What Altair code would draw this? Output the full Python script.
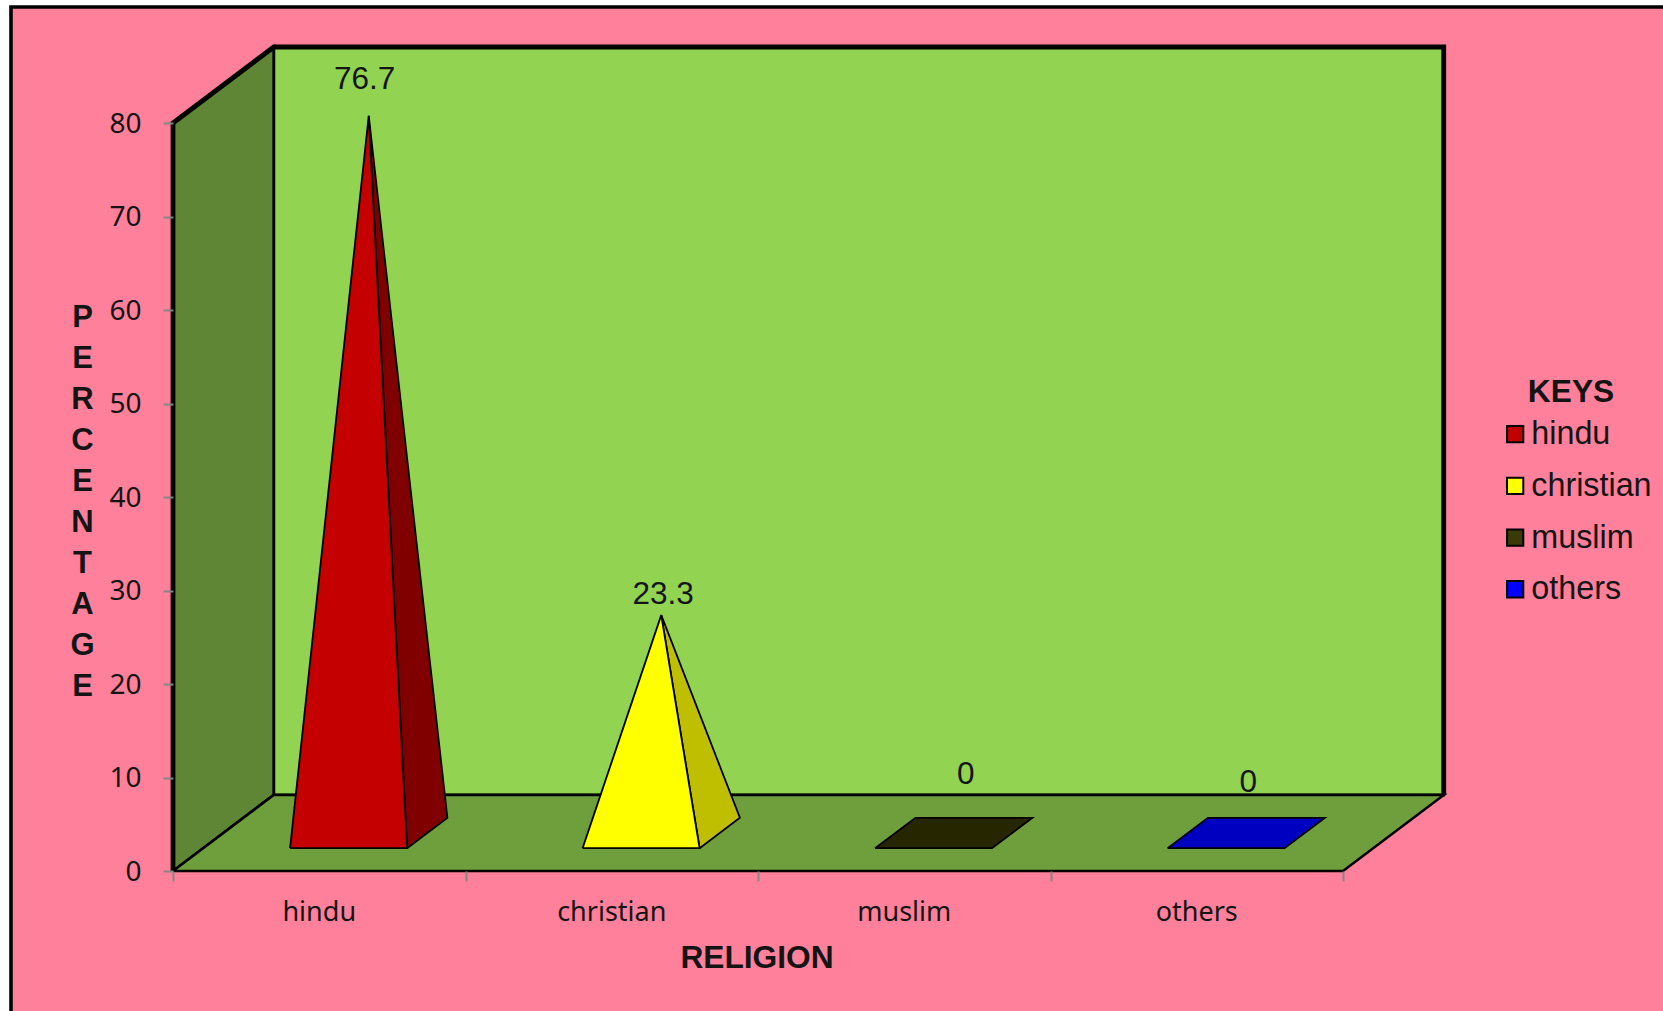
import altair as alt
import pandas as pd

# Survey figures
religions = ["hindu", "christian", "muslim", "others"]
percentages = [76.7, 23.3, 0, 0]
y_ticks = [0, 10, 20, 30, 40, 50, 60, 70, 80]
x_edges = [0, 1, 2, 3, 4]

# Palette for the pyramids: lit face, shaded face, legend key
front_colors = ["#C40000", "#FFFF00", "#262600", "#0000C0"]
side_colors = ["#800000", "#BFBF00", "#262600", "#0000C0"]
key_colors = ["#C00000", "#FFFF00", "#3A3A08", "#0000FF"]
label_nudges = [(-4, -36), (2, -20), (12, -58), (2, -50)]

PINK = "#FF809A"
BACK_WALL = "#92D351"
SIDE_WALL = "#5F8635"
FLOOR = "#6F9F3D"
TICK = "#868686"
INK = "#141414"
SANS = "Liberation Sans"
SOFT = "Noto Sans"

# Oblique projection: one unit of depth moves this far along each data axis
DEPTH_X = 0.3444
DEPTH_Y = 8.13
Y_MAX = 80
N = len(religions)
X_SCALE = alt.Scale(domain=[0, N], nice=False, zero=False)
Y_SCALE = alt.Scale(domain=[0, Y_MAX], nice=False, zero=False)
PYRAMID_HALF = 0.2
PYRAMID_CENTRE = 0.497


def project(cat, depth, value):
    return cat + depth * DEPTH_X, value + depth * DEPTH_Y


def polygon(points, fill, stroke="black", width=1.8, closed=True):
    """Draws a straight-edged face through the shared x and y scales."""
    pts = list(points) + ([points[0]] if closed else [])
    rows = []
    for i, (c, d, v) in enumerate(pts):
        x, y = project(c, d, v)
        rows.append({"x": x, "y": y, "i": i})
    kwargs = dict(stroke=stroke, strokeWidth=width, strokeJoin="miter", clip=False)
    if fill:
        kwargs["fill"] = fill
    return alt.Chart(pd.DataFrame(rows)).mark_line(**kwargs).encode(
        x=alt.X("x:Q", scale=X_SCALE, axis=None),
        y=alt.Y("y:Q", scale=Y_SCALE, axis=None),
        order="i:Q",
    )


layers = []

# Page panel: white margin on the left and top, black outline running off the page
layers.append(
    alt.Chart(pd.DataFrame({"a": [0]})).mark_rect(fill=PINK, stroke="black", strokeWidth=3.6).encode(
        x=alt.value(-162), x2=alt.value(1600), y=alt.value(-116), y2=alt.value(1000)
    )
)

# Axes with ticks and titles, attached to an invisible layer and raised above the panel
axis_frame = pd.DataFrame({"x": x_edges, "y": y_ticks[: len(x_edges)]})
layers.append(
    alt.Chart(axis_frame).mark_point(opacity=0, clip=False).encode(
        x=alt.X(
            "x:Q",
            scale=X_SCALE,
            axis=alt.Axis(
                orient="bottom", zindex=1,
                values=x_edges, labels=False, grid=False, domain=False,
                tickColor=TICK, tickWidth=2, tickSize=10,
                title="RELIGION", titleFont=SANS, titleFontWeight="bold",
                titleFontSize=31.7, titleColor=INK, titleX=583.5, titleY=86.5,
                titleBaseline="middle", titleAlign="center",
            ),
        ),
        y=alt.Y(
            "y:Q",
            scale=Y_SCALE,
            axis=alt.Axis(
                orient="left", zindex=1,
                values=y_ticks, grid=False, domain=False,
                tickColor=TICK, tickWidth=2, tickSize=10, labelPadding=22,
                labelOffset=1,
                labelFont=SOFT, labelFontSize=28, labelColor=INK,
                title=list("PERCENTAGE"), titleFont=SANS, titleFontWeight="bold",
                titleFontSize=31, titleColor=INK, titleAngle=0,
                titleLineHeight=41, titleX=-91, titleY=194, titleAlign="center",
                titleBaseline="middle",
            ),
        ),
    )
)

# Walls and floor of the box
layers.append(polygon([(0, 1, 0), (N, 1, 0), (N, 1, Y_MAX), (0, 1, Y_MAX)], BACK_WALL, width=2.8))
layers.append(polygon([(0, 0, 0), (0, 1, 0), (0, 1, Y_MAX), (0, 0, Y_MAX)], SIDE_WALL, width=2.8))
layers.append(polygon([(0, 0, 0), (N, 0, 0), (N, 1, 0), (0, 1, 0)], FLOOR, width=2.5))

# Heavy outer edge of the box
layers.append(
    polygon(
        [(0, 0, 0), (0, 0, Y_MAX), (0, 1, Y_MAX), (N, 1, Y_MAX), (N, 1, 0)],
        None, width=4.8, closed=False,
    )
)

# One pyramid per category, standing in the middle of the floor
for i, value in enumerate(percentages):
    mid = i + PYRAMID_CENTRE
    near_l = (mid - PYRAMID_HALF, 0.5 - PYRAMID_HALF, 0)
    near_r = (mid + PYRAMID_HALF, 0.5 - PYRAMID_HALF, 0)
    far_r = (mid + PYRAMID_HALF, 0.5 + PYRAMID_HALF, 0)
    far_l = (mid - PYRAMID_HALF, 0.5 + PYRAMID_HALF, 0)
    apex = (mid, 0.5, value)
    if value > 0:
        layers.append(polygon([near_r, far_r, apex], side_colors[i]))
        layers.append(polygon([near_l, near_r, apex], front_colors[i]))
    else:
        layers.append(polygon([near_l, near_r, far_r, far_l], front_colors[i]))

    apex_x, apex_y = project(*apex)
    dx, dy = label_nudges[i]
    layers.append(
        alt.Chart(pd.DataFrame({"x": [apex_x], "y": [apex_y], "t": [str(value)]}))
        .mark_text(font=SANS, fontSize=31.5, color=INK, baseline="middle", dx=dx, dy=dy, clip=False)
        .encode(
            x=alt.X("x:Q", scale=X_SCALE, axis=None),
            y=alt.Y("y:Q", scale=Y_SCALE, axis=None),
            text="t:N",
        )
    )

# Category names centred under each floor segment
layers.append(
    alt.Chart(pd.DataFrame({"x": [i + 0.5 for i in range(N)], "y": [0] * N, "t": religions}))
    .mark_text(font=SOFT, fontSize=27, color=INK, baseline="middle", dy=42, clip=False)
    .encode(
        x=alt.X("x:Q", scale=X_SCALE, axis=None),
        y=alt.Y("y:Q", scale=Y_SCALE, axis=None),
        text="t:N",
    )
)

# Key: the symbols come from a colour scale, the marks themselves stay empty
layers.append(
    alt.Chart(pd.DataFrame({"x": [0.0] * N, "y": [0.0] * N, "r": religions}))
    .mark_point(filled=True, shape="square", size=0, stroke="black", strokeWidth=2, opacity=1)
    .encode(
        x=alt.X("x:Q", scale=X_SCALE, axis=None),
        y=alt.Y("y:Q", scale=Y_SCALE, axis=None),
        color=alt.Color(
            "r:N",
            scale=alt.Scale(domain=religions, range=key_colors),
            sort=religions,
            legend=alt.Legend(
                title=None, orient="none", legendX=1326, legendY=295,
                symbolType="square", symbolSize=265, symbolStrokeWidth=2,
                symbolStrokeColor="black", symbolOpacity=1,
                labelFont=SANS, labelFontSize=32.3, labelColor=INK, labelLimit=200,
                labelOffset=0, rowPadding=18.7, padding=0,
            ),
        ),
    )
)

# Heading over the key
layers.append(
    alt.Chart(pd.DataFrame({"x": [N], "y": [0], "t": ["KEYS"]}))
    .mark_text(font=SANS, fontSize=31.7, fontWeight="bold", color=INK, baseline="middle",
               dx=228, dy=-479, clip=False)
    .encode(
        x=alt.X("x:Q", scale=X_SCALE, axis=None),
        y=alt.Y("y:Q", scale=Y_SCALE, axis=None),
        text="t:N",
    )
)

chart = (
    alt.layer(*layers)
    .resolve_axis(x="independent", y="independent")
    .properties(
        width=1170,
        height=748,
        background="white",
        padding={"left": 173, "top": 123, "right": 320, "bottom": 140},
        autosize=alt.AutoSizeParams(type="none"),
    )
    .configure_view(stroke=None)
)

chart.save("out.html", embed_options={"renderer": "svg", "actions": False})
